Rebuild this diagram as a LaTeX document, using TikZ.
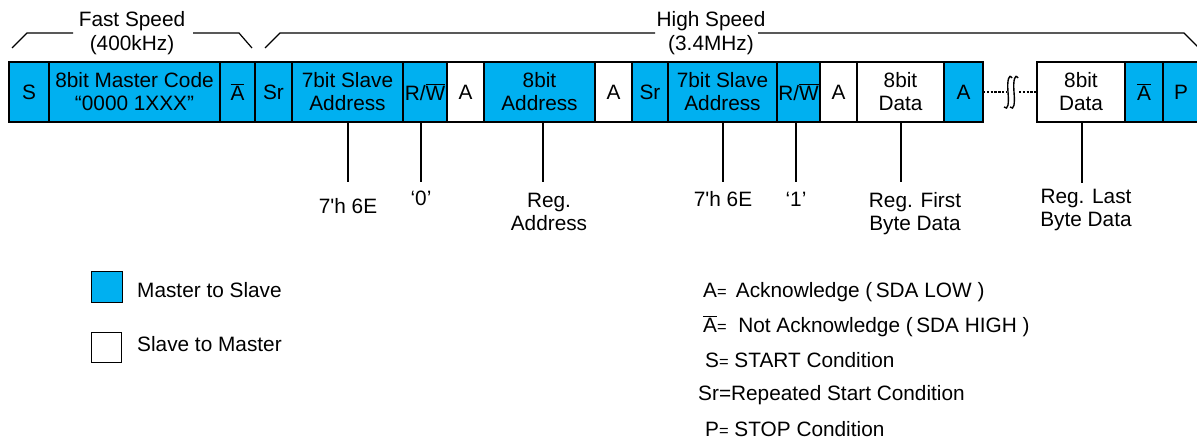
\documentclass[tikz,border=0pt]{standalone}
\usepackage{fontspec}
\newfontfamily\arl{Liberation Sans}
\definecolor{mblue}{HTML}{00B0F0}
\newcommand\ovl[1]{\ensuremath{\overline{\mbox{#1}}}}
\newcommand\smeq{{\fontsize{16.5}{16.5}\selectfont=}}
\newcommand\bx[5]{\node[#1, minimum width={(#4-#3)*1pt}] (#2) at (#3,62) {#5};}
\begin{document}
\begin{tikzpicture}[x=1pt,y=-1pt,
  font=\arl\fontsize{20.8}{23}\selectfont,
  seg/.style={draw, line width=1.5pt, inner sep=0pt, outer sep=0pt,
    minimum height=60pt, anchor=north west, align=center},
  ms/.style={seg, fill=mblue},
  sm/.style={seg, fill=white},
  lead/.style={line width=1.2pt},
  brace/.style={line width=1.2pt},
  lbl/.style={anchor=base, align=center, inner sep=0pt},
  leg/.style={anchor=base west, inner sep=0pt},
  dots/.style={line width=2.6pt, dash pattern=on 2.4pt off 1.4pt},
  brk/.style={line width=1.4pt}]
\useasboundingbox (0,0) rectangle (1197,441);
% speed labels
\node[lbl] (fs) at (132,27) {Fast Speed};
\node[lbl] (fsf) at (132,51) {(400kHz)};
\node[lbl] (hs) at (711,27) {High Speed};
\node[lbl] (hsf) at (711,51) {(3.4MHz)};
\draw[brace] (12,48) -- (27,33) -- (73,33);
\draw[brace] (193,33) -- (239,33) -- (252,48);
\draw[brace] (265,48) -- (280,33) -- (655,33);
\draw[brace] (758,33) -- (1184,33) -- (1198,47);
% frame
\bx{ms}{s}{9}{49}{S}
\bx{ms}{mc}{49}{220}{8bit Master Code\\“0000 1XXX”}
\bx{ms}{na1}{220}{255}{\ovl{A}}
\bx{ms}{sr1}{255}{292}{Sr}
\bx{ms}{sa1}{292}{403}{7bit Slave\\Address}
\bx{ms}{rw1}{403}{447}{R/\ovl{W}}
\bx{sm}{a1}{447}{484}{A}
\bx{ms}{ad}{484}{595}{8bit\\Address}
\bx{sm}{a2}{595}{632}{A}
\bx{ms}{sr2}{632}{668}{Sr}
\bx{ms}{sa2}{668}{777}{7bit Slave\\Address}
\bx{ms}{rw2}{777}{820}{R/\ovl{W}}
\bx{sm}{a3}{820}{857}{A}
\bx{sm}{d1}{857}{944}{8bit\\Data}
\bx{ms}{a4}{944}{983}{A}
\bx{sm}{d2}{1037}{1125}{8bit\\Data}
\bx{ms}{na2}{1125}{1163}{\ovl{A}}
\bx{ms}{p}{1163}{1199}{P}
% break
\coordinate (b1) at (1006,92);
\coordinate (b2) at (1019,92);
\draw[dots] (a4.east) -- (b1);
\draw[dots] (b2) -- (d2.west);
\draw[brk] (1012,78) .. controls (1009,73) and (1007,80) .. (1008,92) .. controls (1009,104) and (1008,111) .. (1004,107);
\draw[brk] (1018,78) .. controls (1015,73) and (1013,80) .. (1014,92) .. controls (1015,104) and (1014,111) .. (1010,107);
% leaders
\coordinate (l1) at (348,182);
\coordinate (l2) at (421,182);
\coordinate (l3) at (543,182);
\coordinate (l4) at (723,182);
\coordinate (l5) at (796,182);
\coordinate (l6) at (901,182);
\coordinate (l7) at (1082,183);
\draw[lead] (sa1.south -| l1) -- (l1);
\draw[lead] (rw1.south -| l2) -- (l2);
\draw[lead] (ad.south -| l3) -- (l3);
\draw[lead] (sa2.south -| l4) -- (l4);
\draw[lead] (rw2.south -| l5) -- (l5);
\draw[lead] (d1.south -| l6) -- (l6);
\draw[lead] (d2.south -| l7) -- (l7);
\node[lbl] (t1) at (348,213) {7'h 6E};
\node[lbl] (t2) at (421,205) {‘0’};
\node[lbl] (t3) at (549,230) {Reg.\\Address};
\node[lbl] (t4) at (723,206) {7'h 6E};
\node[lbl] (t5) at (796,206) {‘1’};
\node[lbl] (t6) at (915,230) {Reg. First\\Byte Data};
\node[lbl] (t7) at (1086,226) {Reg. Last\\Byte Data};
% legend
\node[draw, fill=mblue, line width=1.3pt, minimum size=31pt, inner sep=0pt, anchor=north west] (k1) at (91,271) {};
\node[draw, fill=white, line width=1.3pt, minimum size=30pt, inner sep=0pt, anchor=north west] (k2) at (91,332) {};
\node[leg] (k1t) at (137,297) {Master to Slave};
\node[leg] (k2t) at (137,351) {Slave to Master};
\node[leg] (e1) at (703,297) {A\smeq\ \,Acknowledge (\,SDA LOW\ )};
\node[leg] (e2) at (703,332) {\ovl{A}\smeq\ \ Not Acknowledge (\,SDA HIGH\ )};
\node[leg] (e3) at (705,367) {S\smeq\ START Condition};
\node[leg] (e4) at (698,400) {Sr=Repeated Start Condition};
\node[leg] (e5) at (705,436) {P\smeq\ STOP Condition};
\end{tikzpicture}
\end{document}
